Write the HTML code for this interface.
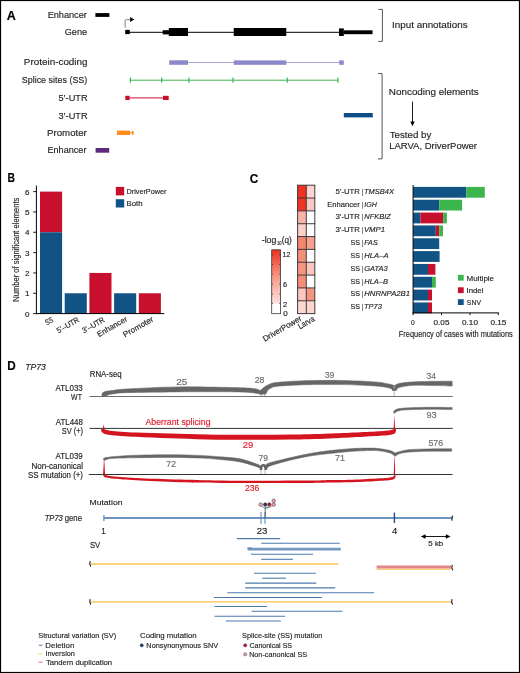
<!DOCTYPE html>
<html><head><meta charset="utf-8"><style>
html,body{margin:0;padding:0;background:#fff;}
svg{display:block;}
text{font-family:"Liberation Sans",sans-serif;stroke-width:0.16px;}
</style></head><body>
<svg width="520" height="673" viewBox="0 0 520 673">
<rect x="0" y="0" width="520" height="673" fill="#fff"/>
<rect x="95.4" y="13.1" width="14.0" height="3.8" fill="#000" />
<line x1="127" y1="32.3" x2="372" y2="32.3" stroke="#000" stroke-width="1" />
<rect x="125.2" y="29.9" width="4.6" height="4.2" fill="#000" />
<rect x="162.7" y="30.2" width="6.3" height="4.2" fill="#000" />
<rect x="168.8" y="28.0" width="19.2" height="8.0" fill="#000" />
<rect x="233.7" y="28.0" width="52.6" height="8.0" fill="#000" />
<rect x="339.0" y="28.4" width="4.8" height="7.6" fill="#000" />
<rect x="343.8" y="30.3" width="28.7" height="3.9" fill="#000" />
<path d="M125.15,27.7 V20.6 Q125.15,19.7 126.05,19.7 H130.6" stroke="#7a7a7a" stroke-width="0.95" fill="none" />
<path d="M130.1,17.1 L134.3,19.6 L130.1,22.0 Z" stroke="none" stroke-width="1" fill="#000" />
<path d="M378.3,9.4 H382.4 V41.4 H378.3" stroke="#555" stroke-width="1" fill="none" />
<path d="M378.0,73.6 H382.1 V158.9 H378.0" stroke="#555" stroke-width="1" fill="none" />
<line x1="412.5" y1="101.7" x2="412.5" y2="122.5" stroke="#000" stroke-width="0.9" />
<path d="M410.3,121.5 L412.5,126.3 L414.7,121.5 Z" stroke="none" stroke-width="1" fill="#000" />
<line x1="188" y1="62.5" x2="339.2" y2="62.5" stroke="#a9a6d8" stroke-width="1" />
<rect x="169.2" y="60.3" width="18.8" height="4.5" fill="#8c88c9" />
<rect x="233.8" y="60.4" width="52.5" height="4.4" fill="#8c88c9" />
<rect x="339.2" y="60.4" width="4.6" height="4.4" fill="#8c88c9" />
<line x1="130.2" y1="80.2" x2="338.0" y2="80.2" stroke="#3cb44b" stroke-width="1" />
<line x1="130.4" y1="77.6" x2="130.4" y2="82.8" stroke="#3cb44b" stroke-width="1.2" />
<line x1="161.7" y1="77.6" x2="161.7" y2="82.8" stroke="#3cb44b" stroke-width="1.2" />
<line x1="188.9" y1="77.6" x2="188.9" y2="82.8" stroke="#3cb44b" stroke-width="1.2" />
<line x1="233.0" y1="77.6" x2="233.0" y2="82.8" stroke="#3cb44b" stroke-width="1.2" />
<line x1="287.2" y1="77.6" x2="287.2" y2="82.8" stroke="#3cb44b" stroke-width="1.2" />
<line x1="338.0" y1="77.6" x2="338.0" y2="82.8" stroke="#3cb44b" stroke-width="1.2" />
<line x1="129.7" y1="97.9" x2="163" y2="97.9" stroke="#c8102e" stroke-width="1" />
<rect x="125.3" y="95.8" width="4.4" height="4.2" fill="#c8102e" />
<rect x="163.0" y="95.8" width="5.7" height="4.2" fill="#c8102e" />
<rect x="343.8" y="113.0" width="29.0" height="4.4" fill="#0d4c87" />
<rect x="117.0" y="130.6" width="13.0" height="4.4" fill="#ff8c1a" />
<line x1="130" y1="132.8" x2="133.5" y2="132.8" stroke="#ff8c1a" stroke-width="1" />
<rect x="131.9" y="130.8" width="1.6" height="4.0" fill="#ff8c1a" />
<rect x="95.6" y="148.0" width="13.6" height="4.7" fill="#5b2a7c" />
<rect x="40.0" y="191.62000000000003" width="22.1" height="40.66" fill="#c8102e" />
<rect x="40.0" y="232.28000000000003" width="22.1" height="81.32" fill="#125385" />
<rect x="64.7" y="293.27000000000004" width="22.1" height="20.329999999999984" fill="#125385" />
<rect x="89.4" y="272.94000000000005" width="22.1" height="40.65999999999997" fill="#c8102e" />
<rect x="114.1" y="293.27000000000004" width="22.1" height="20.329999999999984" fill="#125385" />
<rect x="138.8" y="293.27000000000004" width="22.1" height="20.329999999999984" fill="#c8102e" />
<line x1="36.4" y1="185.6" x2="36.4" y2="314.1" stroke="#000" stroke-width="1" />
<line x1="35.9" y1="313.6" x2="164.2" y2="313.6" stroke="#000" stroke-width="1" />
<line x1="33.2" y1="313.6" x2="36.4" y2="313.6" stroke="#000" stroke-width="0.9" />
<line x1="33.2" y1="293.27000000000004" x2="36.4" y2="293.27000000000004" stroke="#000" stroke-width="0.9" />
<line x1="33.2" y1="272.94000000000005" x2="36.4" y2="272.94000000000005" stroke="#000" stroke-width="0.9" />
<line x1="33.2" y1="252.61" x2="36.4" y2="252.61" stroke="#000" stroke-width="0.9" />
<line x1="33.2" y1="232.28000000000003" x2="36.4" y2="232.28000000000003" stroke="#000" stroke-width="0.9" />
<line x1="33.2" y1="211.95000000000005" x2="36.4" y2="211.95000000000005" stroke="#000" stroke-width="0.9" />
<line x1="33.2" y1="191.62000000000003" x2="36.4" y2="191.62000000000003" stroke="#000" stroke-width="0.9" />
<rect x="115.8" y="186.9" width="8.4" height="8.5" fill="#c8102e" />
<rect x="115.8" y="199.2" width="8.4" height="8.3" fill="#125385" />
<rect x="297.6" y="185.2" width="8.699999999999989" height="12.84" fill="#ee3322" />
<rect x="306.3" y="185.2" width="8.5" height="12.84" fill="#fdd5d0" />
<rect x="297.6" y="198.04" width="8.699999999999989" height="12.84" fill="#ee3322" />
<rect x="306.3" y="198.04" width="8.5" height="12.84" fill="#fcc9c2" />
<rect x="297.6" y="210.88" width="8.699999999999989" height="12.84" fill="#f9b4a8" />
<rect x="306.3" y="210.88" width="8.5" height="12.84" fill="#ffffff" />
<rect x="297.6" y="223.71999999999997" width="8.699999999999989" height="12.84" fill="#fccfc8" />
<rect x="306.3" y="223.71999999999997" width="8.5" height="12.84" fill="#ffffff" />
<rect x="297.6" y="236.56" width="8.699999999999989" height="12.84" fill="#f4866f" />
<rect x="306.3" y="236.56" width="8.5" height="12.84" fill="#f7a090" />
<rect x="297.6" y="249.39999999999998" width="8.699999999999989" height="12.84" fill="#f58f7a" />
<rect x="306.3" y="249.39999999999998" width="8.5" height="12.84" fill="#ffffff" />
<rect x="297.6" y="262.24" width="8.699999999999989" height="12.84" fill="#f59580" />
<rect x="306.3" y="262.24" width="8.5" height="12.84" fill="#fcc5bd" />
<rect x="297.6" y="275.08" width="8.699999999999989" height="12.84" fill="#f58f7a" />
<rect x="306.3" y="275.08" width="8.5" height="12.84" fill="#ffffff" />
<rect x="297.6" y="287.91999999999996" width="8.699999999999989" height="12.84" fill="#fcc5bd" />
<rect x="306.3" y="287.91999999999996" width="8.5" height="12.84" fill="#f59580" />
<rect x="297.6" y="300.76" width="8.699999999999989" height="12.84" fill="#fdd8d2" />
<rect x="306.3" y="300.76" width="8.5" height="12.84" fill="#fdd5d0" />
<line x1="297.15000000000003" y1="185.2" x2="315.25" y2="185.2" stroke="#333333" stroke-width="0.95" />
<line x1="297.15000000000003" y1="198.04" x2="315.25" y2="198.04" stroke="#333333" stroke-width="0.95" />
<line x1="297.15000000000003" y1="210.88" x2="315.25" y2="210.88" stroke="#333333" stroke-width="0.95" />
<line x1="297.15000000000003" y1="223.71999999999997" x2="315.25" y2="223.71999999999997" stroke="#333333" stroke-width="0.95" />
<line x1="297.15000000000003" y1="236.56" x2="315.25" y2="236.56" stroke="#333333" stroke-width="0.95" />
<line x1="297.15000000000003" y1="249.39999999999998" x2="315.25" y2="249.39999999999998" stroke="#333333" stroke-width="0.95" />
<line x1="297.15000000000003" y1="262.24" x2="315.25" y2="262.24" stroke="#333333" stroke-width="0.95" />
<line x1="297.15000000000003" y1="275.08" x2="315.25" y2="275.08" stroke="#333333" stroke-width="0.95" />
<line x1="297.15000000000003" y1="287.91999999999996" x2="315.25" y2="287.91999999999996" stroke="#333333" stroke-width="0.95" />
<line x1="297.15000000000003" y1="300.76" x2="315.25" y2="300.76" stroke="#333333" stroke-width="0.95" />
<line x1="297.15000000000003" y1="313.6" x2="315.25" y2="313.6" stroke="#333333" stroke-width="0.95" />
<line x1="297.6" y1="185.2" x2="297.6" y2="313.6" stroke="#333333" stroke-width="0.95" />
<line x1="306.3" y1="185.2" x2="306.3" y2="313.6" stroke="#333333" stroke-width="0.95" />
<line x1="314.8" y1="185.2" x2="314.8" y2="313.6" stroke="#333333" stroke-width="0.95" />
<defs><linearGradient id="cb" x1="0" y1="1" x2="0" y2="0"><stop offset="0" stop-color="#fde0dc"/><stop offset="0.45" stop-color="#f6a08e"/><stop offset="1" stop-color="#ec3220"/></linearGradient></defs>
<rect x="271.7" y="249.8" width="8.9" height="53.599999999999966" fill="url(#cb)" />
<rect x="271.7" y="249.8" width="8.9" height="63.89999999999998" fill="none" stroke="#3a3a3a" stroke-width="0.8"/>
<line x1="271.7" y1="254.8" x2="273.0" y2="254.8" stroke="#3a3a3a" stroke-width="0.8" />
<line x1="279.3" y1="254.8" x2="280.6" y2="254.8" stroke="#3a3a3a" stroke-width="0.8" />
<line x1="271.7" y1="264.5" x2="273.0" y2="264.5" stroke="#3a3a3a" stroke-width="0.8" />
<line x1="279.3" y1="264.5" x2="280.6" y2="264.5" stroke="#3a3a3a" stroke-width="0.8" />
<line x1="271.7" y1="274.2" x2="273.0" y2="274.2" stroke="#3a3a3a" stroke-width="0.8" />
<line x1="279.3" y1="274.2" x2="280.6" y2="274.2" stroke="#3a3a3a" stroke-width="0.8" />
<line x1="271.7" y1="284.2" x2="273.0" y2="284.2" stroke="#3a3a3a" stroke-width="0.8" />
<line x1="279.3" y1="284.2" x2="280.6" y2="284.2" stroke="#3a3a3a" stroke-width="0.8" />
<line x1="271.7" y1="294.0" x2="273.0" y2="294.0" stroke="#3a3a3a" stroke-width="0.8" />
<line x1="279.3" y1="294.0" x2="280.6" y2="294.0" stroke="#3a3a3a" stroke-width="0.8" />
<line x1="271.7" y1="303.4" x2="273.0" y2="303.4" stroke="#3a3a3a" stroke-width="0.8" />
<line x1="279.3" y1="303.4" x2="280.6" y2="303.4" stroke="#3a3a3a" stroke-width="0.8" />
<rect x="413.1" y="186.9" width="53.099999999999966" height="10.8" fill="#125385" />
<rect x="466.2" y="186.9" width="18.600000000000023" height="10.8" fill="#3bb54e" />
<rect x="413.1" y="199.74" width="26.099999999999966" height="10.8" fill="#125385" />
<rect x="439.2" y="199.74" width="22.900000000000034" height="10.8" fill="#3bb54e" />
<rect x="413.1" y="212.58" width="7.2999999999999545" height="10.8" fill="#125385" />
<rect x="420.4" y="212.58" width="22.700000000000045" height="10.8" fill="#c8102e" />
<rect x="443.1" y="212.58" width="3.7999999999999545" height="10.8" fill="#3bb54e" />
<rect x="413.1" y="225.42000000000002" width="22.69999999999999" height="10.8" fill="#125385" />
<rect x="435.8" y="225.42000000000002" width="3.3999999999999773" height="10.8" fill="#c8102e" />
<rect x="439.2" y="225.42000000000002" width="3.8000000000000114" height="10.8" fill="#3bb54e" />
<rect x="413.1" y="238.26" width="26.099999999999966" height="10.8" fill="#125385" />
<rect x="413.1" y="251.10000000000002" width="26.5" height="10.8" fill="#125385" />
<rect x="413.1" y="263.94" width="14.899999999999977" height="10.8" fill="#125385" />
<rect x="428.0" y="263.94" width="7.399999999999977" height="10.8" fill="#c8102e" />
<rect x="413.1" y="276.78" width="18.899999999999977" height="10.8" fill="#125385" />
<rect x="432.0" y="276.78" width="3.8000000000000114" height="10.8" fill="#3bb54e" />
<rect x="413.1" y="289.62" width="14.899999999999977" height="10.8" fill="#125385" />
<rect x="428.0" y="289.62" width="4.0" height="10.8" fill="#c8102e" />
<rect x="413.1" y="302.46000000000004" width="14.899999999999977" height="10.8" fill="#125385" />
<rect x="428.0" y="302.46000000000004" width="4.0" height="10.8" fill="#c8102e" />
<line x1="413.1" y1="185.0" x2="413.1" y2="313.4" stroke="#000" stroke-width="1" />
<line x1="412.6" y1="312.9" x2="498.8" y2="312.9" stroke="#000" stroke-width="1" />
<line x1="413.1" y1="312.9" x2="413.1" y2="315.2" stroke="#000" stroke-width="0.9" />
<line x1="441.5" y1="312.9" x2="441.5" y2="315.2" stroke="#000" stroke-width="0.9" />
<line x1="470.0" y1="312.9" x2="470.0" y2="315.2" stroke="#000" stroke-width="0.9" />
<line x1="498.3" y1="312.9" x2="498.3" y2="315.2" stroke="#000" stroke-width="0.9" />
<rect x="457.9" y="274.8" width="5.8" height="5.8" fill="#3bb54e" />
<rect x="457.9" y="287.3" width="5.8" height="5.8" fill="#c8102e" />
<rect x="457.9" y="299.2" width="5.8" height="5.8" fill="#125385" />
<line x1="38.7" y1="645.2" x2="42.5" y2="645.2" stroke="#4e7fb0" stroke-width="1" />
<line x1="38.7" y1="653.8" x2="42.5" y2="653.8" stroke="#f7cf6b" stroke-width="1" />
<line x1="38.7" y1="662.1" x2="42.5" y2="662.1" stroke="#e8646e" stroke-width="1" />
<circle cx="141.7" cy="645.3" r="1.6" fill="#123f7a" stroke="#222" stroke-width="0.4"/>
<circle cx="245.2" cy="645.3" r="1.6" fill="#c8102e" stroke="#222" stroke-width="0.4"/>
<circle cx="245.2" cy="654.3" r="1.6" fill="#f4a0b0" stroke="#222" stroke-width="0.4"/>
<line x1="89.5" y1="396.5" x2="452.7" y2="396.5" stroke="#707070" stroke-width="1.1" />
<line x1="89.5" y1="428.4" x2="452.7" y2="428.4" stroke="#333" stroke-width="1" />
<line x1="88.8" y1="474.5" x2="452.5" y2="474.5" stroke="#333" stroke-width="1" />
<path d="M102.00,396.20 C102.05,395.70 101.80,393.97 102.30,393.20 C102.80,392.43 103.72,392.00 105.00,391.60 C106.28,391.20 106.50,391.23 110.00,390.80 C113.50,390.37 114.83,389.65 126.00,389.00 C137.17,388.35 158.67,387.13 177.00,386.90 C195.33,386.67 222.83,387.27 236.00,387.60 C249.17,387.93 252.03,388.37 256.00,388.90 C259.97,389.43 259.17,390.48 259.80,390.80 L260.30,394.70 C259.58,394.45 260.05,393.67 256.00,393.20 C251.95,392.73 249.17,392.12 236.00,391.90 C222.83,391.68 195.33,391.77 177.00,391.90 C158.67,392.03 136.83,392.33 126.00,392.70 C115.17,393.07 115.00,393.70 112.00,394.10 C109.00,394.50 109.00,394.75 108.00,395.10 C107.00,395.45 106.33,396.02 106.00,396.20 Z" fill="#666" stroke="#666" stroke-width="0.5" stroke-linejoin="round"/>
<rect x="259.3" y="389.5" width="7.5" height="5.1" rx="2" fill="#666"/>
<path d="M261.50,389.60 C261.92,389.20 262.92,387.98 264.00,387.20 C265.08,386.42 266.00,385.68 268.00,384.90 C270.00,384.12 270.67,383.17 276.00,382.50 C281.33,381.83 289.33,381.25 300.00,380.90 C310.67,380.55 327.50,380.23 340.00,380.40 C352.50,380.57 366.67,381.27 375.00,381.90 C383.33,382.53 386.80,383.58 390.00,384.20 C393.20,384.82 393.50,385.37 394.20,385.60 L392.50,390.60 C392.08,390.20 392.92,388.97 390.00,388.20 C387.08,387.43 383.33,386.60 375.00,386.00 C366.67,385.40 352.50,384.78 340.00,384.60 C327.50,384.42 310.67,384.60 300.00,384.90 C289.33,385.20 280.67,385.95 276.00,386.40 C271.33,386.85 273.25,387.07 272.00,387.60 C270.75,388.13 269.37,388.87 268.50,389.60 C267.63,390.33 267.08,391.60 266.80,392.00 Z" fill="#666" stroke="#666" stroke-width="0.5" stroke-linejoin="round"/>
<path d="M394.20,385.80 C395.17,385.38 396.53,383.97 400.00,383.30 C403.47,382.63 409.17,382.13 415.00,381.80 C420.83,381.47 428.80,381.40 435.00,381.30 C441.20,381.20 449.33,381.22 452.20,381.20 L452.20,386.10 C449.33,386.02 441.20,385.73 435.00,385.60 C428.80,385.47 420.83,385.02 415.00,385.30 C409.17,385.58 403.17,386.42 400.00,387.30 C396.83,388.18 396.67,390.05 396.00,390.60 Z" fill="#666" stroke="#666" stroke-width="0.5" stroke-linejoin="round"/>
<rect x="392.2" y="388" width="4.2" height="2.7" fill="#666"/>
<line x1="261.4" y1="394.2" x2="261.4" y2="396.3" stroke="#666" stroke-width="0.5" />
<line x1="264.8" y1="394.2" x2="264.8" y2="396.3" stroke="#666" stroke-width="0.5" />
<line x1="394.2" y1="390.5" x2="394.2" y2="396.3" stroke="#666" stroke-width="0.5" />
<path d="M103.50,428.60 C104.58,428.95 104.58,430.03 110.00,430.70 C115.42,431.37 126.00,432.13 136.00,432.60 C146.00,433.07 158.17,433.20 170.00,433.50 C181.83,433.80 193.67,434.18 207.00,434.40 C220.33,434.62 236.17,434.77 250.00,434.80 C263.83,434.83 276.67,434.82 290.00,434.60 C303.33,434.38 315.00,434.07 330.00,433.50 C345.00,432.93 369.67,431.82 380.00,431.20 C390.33,430.58 389.58,430.23 392.00,429.80 C394.42,429.37 394.08,428.80 394.50,428.60 L396.00,429.00 C395.92,429.58 396.17,431.58 395.50,432.50 C394.83,433.42 394.58,433.95 392.00,434.50 C389.42,435.05 390.33,435.13 380.00,435.80 C369.67,436.47 345.00,437.87 330.00,438.50 C315.00,439.13 303.33,439.38 290.00,439.60 C276.67,439.82 263.83,439.83 250.00,439.80 C236.17,439.77 220.33,439.65 207.00,439.40 C193.67,439.15 181.83,438.73 170.00,438.30 C158.17,437.87 146.00,437.37 136.00,436.80 C126.00,436.23 115.33,435.47 110.00,434.90 C104.67,434.33 105.42,433.97 104.00,433.40 C102.58,432.83 101.97,432.23 101.50,431.50 C101.03,430.77 101.25,429.42 101.20,429.00 Z" fill="#d4141f"/>
<path d="M102.9,428.4 L103.6,424.2 L104.4,428.4 Z" stroke="none" stroke-width="1" fill="#d4141f" />
<path d="M393.6,428.4 L394.3,414.6 L395.0,428.4 Z" stroke="none" stroke-width="1" fill="#d4141f" />
<path d="M393.40,412.20 C393.83,411.75 394.07,410.20 396.00,409.50 C397.93,408.80 399.33,408.37 405.00,408.00 C410.67,407.63 422.13,407.38 430.00,407.30 C437.87,407.22 448.50,407.47 452.20,407.50 L452.20,409.60 C448.50,409.55 437.87,409.25 430.00,409.30 C422.13,409.35 410.33,409.60 405.00,409.90 C399.67,410.20 399.80,410.52 398.00,411.10 C396.20,411.68 394.83,413.02 394.20,413.40 Z" fill="#666" stroke="#666" stroke-width="0.5" stroke-linejoin="round"/>
<path d="M103.30,458.80 C103.75,458.60 104.05,457.98 106.00,457.60 C107.95,457.22 110.00,456.90 115.00,456.50 C120.00,456.10 126.83,455.50 136.00,455.20 C145.17,454.90 159.33,454.67 170.00,454.70 C180.67,454.73 191.67,455.05 200.00,455.40 C208.33,455.75 213.33,456.23 220.00,456.80 C226.67,457.37 233.67,457.52 240.00,458.80 C246.33,460.08 254.40,463.05 258.00,464.50 C261.60,465.95 261.00,467.00 261.60,467.50 L260.20,469.60 C259.83,469.20 261.37,468.48 258.00,467.20 C254.63,465.92 246.33,463.18 240.00,461.90 C233.67,460.62 226.67,460.13 220.00,459.50 C213.33,458.87 208.33,458.45 200.00,458.10 C191.67,457.75 180.67,457.45 170.00,457.40 C159.33,457.35 145.17,457.65 136.00,457.80 C126.83,457.95 119.67,458.10 115.00,458.30 C110.33,458.50 109.83,458.60 108.00,459.00 C106.17,459.40 104.67,460.42 104.00,460.70 Z" fill="#666" stroke="#666" stroke-width="0.5" stroke-linejoin="round"/>
<path d="M261,469.9 C261,463.6 265.6,463.6 265.6,469.9" stroke="#666" stroke-width="2.4" fill="none" />
<path d="M264.50,466.50 C264.75,466.22 265.08,465.43 266.00,464.80 C266.92,464.17 266.00,463.88 270.00,462.70 C274.00,461.52 283.33,459.23 290.00,457.70 C296.67,456.17 303.33,454.68 310.00,453.50 C316.67,452.32 323.33,451.40 330.00,450.60 C336.67,449.80 343.33,449.12 350.00,448.70 C356.67,448.28 365.00,448.10 370.00,448.10 C375.00,448.10 376.67,448.28 380.00,448.70 C383.33,449.12 387.48,449.88 390.00,450.60 C392.52,451.32 394.25,452.60 395.10,453.00 L395.10,456.30 C394.25,455.75 392.52,453.90 390.00,453.00 C387.48,452.10 383.33,451.30 380.00,450.90 C376.67,450.50 375.00,450.50 370.00,450.60 C365.00,450.70 356.67,451.02 350.00,451.50 C343.33,451.98 336.67,452.75 330.00,453.50 C323.33,454.25 316.67,454.88 310.00,456.00 C303.33,457.12 296.67,458.53 290.00,460.20 C283.33,461.87 273.87,464.43 270.00,466.00 C266.13,467.57 267.33,469.00 266.80,469.60 Z" fill="#666" stroke="#666" stroke-width="0.5" stroke-linejoin="round"/>
<path d="M395.10,453.00 C395.92,452.75 397.52,452.07 400.00,451.50 C402.48,450.93 405.00,450.03 410.00,449.60 C415.00,449.17 423.07,449.03 430.00,448.90 C436.93,448.77 448.00,448.82 451.60,448.80 L451.60,451.30 C448.00,451.30 436.93,451.18 430.00,451.30 C423.07,451.42 415.00,451.62 410.00,452.00 C405.00,452.38 402.48,452.88 400.00,453.60 C397.52,454.32 395.92,455.85 395.10,456.30 Z" fill="#666" stroke="#666" stroke-width="0.5" stroke-linejoin="round"/>
<line x1="261.0" y1="469.8" x2="261.0" y2="474.3" stroke="#666" stroke-width="0.5" />
<line x1="265.1" y1="469.8" x2="265.1" y2="474.3" stroke="#666" stroke-width="0.5" />
<path d="M103.0,474.5 L103.9,460.7 L104.3,460.7 L105.1,474.5 Z" stroke="none" stroke-width="1" fill="#d4141f" />
<path d="M393.7,474.5 L394.4,457.6 L394.8,457.6 L395.2,474.5 Z" stroke="none" stroke-width="1" fill="#d4141f" />
<path d="M106.00,474.80 C106.67,475.00 105.00,475.47 110.00,476.00 C115.00,476.53 124.33,477.40 136.00,478.00 C147.67,478.60 164.33,479.15 180.00,479.60 C195.67,480.05 208.33,480.53 230.00,480.70 C251.67,480.87 293.33,480.70 310.00,480.60 C326.67,480.50 321.67,480.30 330.00,480.10 C338.33,479.90 350.83,479.73 360.00,479.40 C369.17,479.07 379.50,478.55 385.00,478.10 C390.50,477.65 391.40,477.28 393.00,476.70 C394.60,476.12 394.33,474.95 394.60,474.60 L395.60,474.60 C395.55,475.08 395.73,476.70 395.30,477.50 C394.87,478.30 394.72,478.90 393.00,479.40 C391.28,479.90 390.50,480.08 385.00,480.50 C379.50,480.92 369.17,481.57 360.00,481.90 C350.83,482.23 338.33,482.33 330.00,482.50 C321.67,482.67 326.67,482.83 310.00,482.90 C293.33,482.97 251.67,483.02 230.00,482.90 C208.33,482.78 195.67,482.63 180.00,482.20 C164.33,481.77 146.83,480.87 136.00,480.30 C125.17,479.73 120.00,479.25 115.00,478.80 C110.00,478.35 107.92,478.07 106.00,477.60 C104.08,477.13 103.97,476.50 103.50,476.00 C103.03,475.50 103.25,474.83 103.20,474.60 Z" fill="#d4141f"/>
<line x1="103.9" y1="518.0" x2="452.2" y2="518.0" stroke="#6b95bf" stroke-width="2" />
<line x1="103.9" y1="515.0" x2="103.9" y2="520.9" stroke="#6b95bf" stroke-width="1.4" />
<path d="M452.0,515.6 q1.0,1.2 0.2,2.4 q-0.8,1.2 0.2,2.6" stroke="#2a2a2a" stroke-width="1.2" fill="none" />
<line x1="261.0" y1="512.1" x2="261.0" y2="523.7" stroke="#5b89b8" stroke-width="1.1" />
<line x1="265.0" y1="512.1" x2="265.0" y2="523.7" stroke="#5b89b8" stroke-width="1.1" />
<line x1="394.4" y1="512.5" x2="394.4" y2="523.0" stroke="#1f4e86" stroke-width="1.4" />
<path d="M265.2,518 V508.3" stroke="#444" stroke-width="0.85" fill="none" />
<path d="M265.2,508.3 Q262,507.5 260.7,504.6 M265.2,508.3 L265.2,504.6 M265.2,508.3 Q268.5,507.5 269.3,504.4 M265.2,508.3 Q271.5,507.5 273.7,504.6 M273.7,504.6 L273.7,500.8" stroke="#444" stroke-width="0.6" fill="none" />
<circle cx="260.7" cy="504.6" r="1.75" fill="#f4a0b0" stroke="#333" stroke-width="0.5"/>
<circle cx="265.2" cy="504.6" r="1.75" fill="#123f7a" stroke="#333" stroke-width="0.5"/>
<circle cx="269.3" cy="504.4" r="1.75" fill="#c8102e" stroke="#333" stroke-width="0.5"/>
<circle cx="273.7" cy="504.6" r="1.75" fill="#f4a0b0" stroke="#333" stroke-width="0.5"/>
<circle cx="273.7" cy="500.8" r="1.75" fill="#f4a0b0" stroke="#333" stroke-width="0.5"/>
<line x1="424" y1="536.5" x2="447.4" y2="536.5" stroke="#000" stroke-width="0.9" />
<path d="M420.8,536.5 L425.6,534.2 L425.6,538.8 Z" stroke="none" stroke-width="1" fill="#000" />
<path d="M450.6,536.5 L445.8,534.2 L445.8,538.8 Z" stroke="none" stroke-width="1" fill="#000" />
<line x1="236.9" y1="538.6" x2="280.2" y2="538.6" stroke="#4a7aac" stroke-width="1.1" />
<line x1="261.2" y1="543.3" x2="339.8" y2="543.3" stroke="#4a7aac" stroke-width="1.1" />
<line x1="251.0" y1="554.3" x2="313.0" y2="554.3" stroke="#4a7aac" stroke-width="1.1" />
<line x1="261.2" y1="559.3" x2="292.9" y2="559.3" stroke="#4a7aac" stroke-width="1.1" />
<line x1="254.0" y1="573.3" x2="316.0" y2="573.3" stroke="#4a7aac" stroke-width="1.1" />
<line x1="262.3" y1="578.2" x2="286.0" y2="578.2" stroke="#4a7aac" stroke-width="1.1" />
<line x1="245.2" y1="583.1" x2="316.3" y2="583.1" stroke="#4a7aac" stroke-width="1.1" />
<line x1="245.2" y1="587.9" x2="335.2" y2="587.9" stroke="#4a7aac" stroke-width="1.1" />
<line x1="227.3" y1="592.7" x2="374.0" y2="592.7" stroke="#4a7aac" stroke-width="1.1" />
<line x1="213.8" y1="597.5" x2="322.1" y2="597.5" stroke="#4a7aac" stroke-width="1.1" />
<line x1="214.4" y1="606.5" x2="267.0" y2="606.5" stroke="#4a7aac" stroke-width="1.1" />
<line x1="251.5" y1="611.3" x2="342.5" y2="611.3" stroke="#4a7aac" stroke-width="1.1" />
<line x1="214.4" y1="616.2" x2="285.2" y2="616.2" stroke="#4a7aac" stroke-width="1.1" />
<line x1="226.0" y1="621.0" x2="280.8" y2="621.0" stroke="#4a7aac" stroke-width="1.1" />
<line x1="247.6" y1="549.1" x2="340.8" y2="549.1" stroke="#7299c0" stroke-width="2.7" />
<line x1="247.3" y1="548.0" x2="252" y2="548.0" stroke="#4a7aac" stroke-width="0.9" />
<line x1="90.8" y1="564.0" x2="338.2" y2="564.0" stroke="#fbd27c" stroke-width="1.8" />
<line x1="90.8" y1="601.9" x2="450.8" y2="601.9" stroke="#fbd27c" stroke-width="1.8" />
<line x1="376.6" y1="569.2" x2="451.2" y2="569.2" stroke="#fbd27c" stroke-width="1.4" />
<line x1="376.6" y1="567.0" x2="451.2" y2="567.0" stroke="#e3868a" stroke-width="3.1" />
<path d="M89.7,561.3 q1.0,0.9 0.2,1.8 q-0.8,0.9 0.2,1.8 q1.0,0.9 0.2,1.8" stroke="#2a2a2a" stroke-width="1.15" fill="none" />
<path d="M451.8,565.0 q1.0,0.9 0.2,1.8 q-0.8,0.9 0.2,1.8 q1.0,0.9 0.2,1.8" stroke="#2a2a2a" stroke-width="1.15" fill="none" />
<path d="M89.7,599.1999999999999 q1.0,0.9 0.2,1.8 q-0.8,0.9 0.2,1.8 q1.0,0.9 0.2,1.8" stroke="#2a2a2a" stroke-width="1.15" fill="none" />
<path d="M451.5,599.1999999999999 q1.0,0.9 0.2,1.8 q-0.8,0.9 0.2,1.8 q1.0,0.9 0.2,1.8" stroke="#2a2a2a" stroke-width="1.15" fill="none" />
<g id="texts" style="will-change:transform">
<text id="A" x="6.88" y="19.80" font-size="12.00" fill="#000" stroke="#000" font-weight="bold" textLength="9.05" lengthAdjust="spacingAndGlyphs">A</text>
<text id="a_enh" x="47.63" y="17.80" font-size="9.80" fill="#231f20" stroke="#231f20" textLength="39.22" lengthAdjust="spacingAndGlyphs">Enhancer</text>
<text id="a_gene" x="64.73" y="34.60" font-size="9.80" fill="#231f20" stroke="#231f20" textLength="22.36" lengthAdjust="spacingAndGlyphs">Gene</text>
<text id="a_pc" x="23.88" y="65.00" font-size="9.80" fill="#231f20" stroke="#231f20" textLength="63.67" lengthAdjust="spacingAndGlyphs">Protein-coding</text>
<text id="a_ss" x="21.74" y="82.70" font-size="9.80" fill="#231f20" stroke="#231f20" textLength="65.57" lengthAdjust="spacingAndGlyphs">Splice sites (SS)</text>
<text id="a_5u" x="58.39" y="100.90" font-size="9.80" fill="#231f20" stroke="#231f20" textLength="29.23" lengthAdjust="spacingAndGlyphs">5’-UTR</text>
<text id="a_3u" x="58.39" y="118.60" font-size="9.80" fill="#231f20" stroke="#231f20" textLength="29.23" lengthAdjust="spacingAndGlyphs">3’-UTR</text>
<text id="a_pro" x="47.07" y="135.70" font-size="9.80" fill="#231f20" stroke="#231f20" textLength="39.78" lengthAdjust="spacingAndGlyphs">Promoter</text>
<text id="a_enh2" x="47.44" y="153.20" font-size="9.80" fill="#231f20" stroke="#231f20" textLength="39.06" lengthAdjust="spacingAndGlyphs">Enhancer</text>
<text id="a_in" x="392.08" y="28.20" font-size="9.80" fill="#231f20" stroke="#231f20" textLength="75.52" lengthAdjust="spacingAndGlyphs">Input annotations</text>
<text id="a_nc" x="388.89" y="95.00" font-size="9.80" fill="#231f20" stroke="#231f20" textLength="89.86" lengthAdjust="spacingAndGlyphs">Noncoding elements</text>
<text id="a_tb" x="389.65" y="138.00" font-size="9.80" fill="#231f20" stroke="#231f20" textLength="41.65" lengthAdjust="spacingAndGlyphs">Tested by</text>
<text id="a_lv" x="389.14" y="148.90" font-size="9.80" fill="#231f20" stroke="#231f20" textLength="87.91" lengthAdjust="spacingAndGlyphs">LARVA, DriverPower</text>
<text id="B" x="7.42" y="182.20" font-size="12.00" fill="#000" stroke="#000" font-weight="bold" textLength="7.48" lengthAdjust="spacingAndGlyphs">B</text>
<text id="b_dp" x="126.49" y="193.80" font-size="7.60" fill="#231f20" stroke="#231f20" textLength="40.01" lengthAdjust="spacingAndGlyphs">DriverPower</text>
<text id="b_both" x="126.46" y="205.80" font-size="7.60" fill="#231f20" stroke="#231f20" textLength="16.07" lengthAdjust="spacingAndGlyphs">Both</text>
<text id="C" x="249.78" y="182.60" font-size="12.00" fill="#000" stroke="#000" font-weight="bold" textLength="8.51" lengthAdjust="spacingAndGlyphs">C</text>
<text id="c_12" x="282.63" y="257.20" font-size="6.90" fill="#231f20" stroke="#231f20" textLength="7.86" lengthAdjust="spacingAndGlyphs">12</text>
<text id="c_6" x="283.01" y="287.00" font-size="6.90" fill="#231f20" stroke="#231f20" textLength="4.07" lengthAdjust="spacingAndGlyphs">6</text>
<text id="c_2" x="282.97" y="306.70" font-size="6.90" fill="#231f20" stroke="#231f20" textLength="4.20" lengthAdjust="spacingAndGlyphs">2</text>
<text id="c_0" x="283.23" y="316.20" font-size="6.90" fill="#231f20" stroke="#231f20" textLength="4.47" lengthAdjust="spacingAndGlyphs">0</text>
<text id="c_log" x="261.79" y="242.90" font-size="8.20" fill="#231f20" stroke="#231f20" textLength="14.49" lengthAdjust="spacingAndGlyphs">-log</text>
<text id="c_10" x="276.99" y="245.20" font-size="4.50" fill="#231f20" stroke="#231f20" textLength="4.51" lengthAdjust="spacingAndGlyphs">10</text>
<text id="c_q" x="281.68" y="242.90" font-size="8.20" fill="#231f20" stroke="#231f20" textLength="10.02" lengthAdjust="spacingAndGlyphs">(q)</text>
<text id="c_p0" x="335.39" y="193.70" font-size="8.00" fill="#231f20" stroke="#231f20" textLength="24.58" lengthAdjust="spacingAndGlyphs">5’-UTR</text>
<text id="c_bar0" x="361.32" y="193.70" font-size="8.00" fill="#777" stroke="#777" textLength="2.56" lengthAdjust="spacingAndGlyphs">|</text>
<text id="c_g0" x="363.99" y="193.70" font-size="8.00" fill="#231f20" stroke="#231f20" font-style="italic" textLength="29.92" lengthAdjust="spacingAndGlyphs">TMSB4X</text>
<text id="c_p1" x="327.18" y="206.54" font-size="8.00" fill="#231f20" stroke="#231f20" textLength="32.53" lengthAdjust="spacingAndGlyphs">Enhancer</text>
<text id="c_bar1" x="361.32" y="206.54" font-size="8.00" fill="#777" stroke="#777" textLength="2.56" lengthAdjust="spacingAndGlyphs">|</text>
<text id="c_g1" x="364.25" y="206.54" font-size="8.00" fill="#231f20" stroke="#231f20" font-style="italic" textLength="12.55" lengthAdjust="spacingAndGlyphs">IGH</text>
<text id="c_p2" x="335.39" y="219.38" font-size="8.00" fill="#231f20" stroke="#231f20" textLength="24.58" lengthAdjust="spacingAndGlyphs">3’-UTR</text>
<text id="c_bar2" x="361.32" y="219.38" font-size="8.00" fill="#777" stroke="#777" textLength="2.56" lengthAdjust="spacingAndGlyphs">|</text>
<text id="c_g2" x="364.25" y="219.38" font-size="8.00" fill="#231f20" stroke="#231f20" font-style="italic" textLength="26.70" lengthAdjust="spacingAndGlyphs">NFKBIZ</text>
<text id="c_p3" x="335.39" y="232.22" font-size="8.00" fill="#231f20" stroke="#231f20" textLength="24.58" lengthAdjust="spacingAndGlyphs">3’-UTR</text>
<text id="c_bar3" x="361.32" y="232.22" font-size="8.00" fill="#777" stroke="#777" textLength="2.56" lengthAdjust="spacingAndGlyphs">|</text>
<text id="c_g3" x="363.93" y="232.22" font-size="8.00" fill="#231f20" stroke="#231f20" font-style="italic" textLength="21.12" lengthAdjust="spacingAndGlyphs">VMP1</text>
<text id="c_p4" x="350.58" y="245.06" font-size="8.00" fill="#231f20" stroke="#231f20" textLength="9.40" lengthAdjust="spacingAndGlyphs">SS</text>
<text id="c_bar4" x="361.32" y="245.06" font-size="8.00" fill="#777" stroke="#777" textLength="2.56" lengthAdjust="spacingAndGlyphs">|</text>
<text id="c_g4" x="364.25" y="245.06" font-size="8.00" fill="#231f20" stroke="#231f20" font-style="italic" textLength="13.43" lengthAdjust="spacingAndGlyphs">FAS</text>
<text id="c_p5" x="350.58" y="257.90" font-size="8.00" fill="#231f20" stroke="#231f20" textLength="9.40" lengthAdjust="spacingAndGlyphs">SS</text>
<text id="c_bar5" x="361.32" y="257.90" font-size="8.00" fill="#777" stroke="#777" textLength="2.56" lengthAdjust="spacingAndGlyphs">|</text>
<text id="c_g5" x="364.24" y="257.90" font-size="8.00" fill="#231f20" stroke="#231f20" font-style="italic" textLength="24.37" lengthAdjust="spacingAndGlyphs">HLA–A</text>
<text id="c_p6" x="350.58" y="270.74" font-size="8.00" fill="#231f20" stroke="#231f20" textLength="9.40" lengthAdjust="spacingAndGlyphs">SS</text>
<text id="c_bar6" x="361.32" y="270.74" font-size="8.00" fill="#777" stroke="#777" textLength="2.56" lengthAdjust="spacingAndGlyphs">|</text>
<text id="c_g6" x="364.24" y="270.74" font-size="8.00" fill="#231f20" stroke="#231f20" font-style="italic" textLength="23.42" lengthAdjust="spacingAndGlyphs">GATA3</text>
<text id="c_p7" x="350.58" y="283.58" font-size="8.00" fill="#231f20" stroke="#231f20" textLength="9.40" lengthAdjust="spacingAndGlyphs">SS</text>
<text id="c_bar7" x="361.32" y="283.58" font-size="8.00" fill="#777" stroke="#777" textLength="2.56" lengthAdjust="spacingAndGlyphs">|</text>
<text id="c_g7" x="364.25" y="283.58" font-size="8.00" fill="#231f20" stroke="#231f20" font-style="italic" textLength="23.67" lengthAdjust="spacingAndGlyphs">HLA–B</text>
<text id="c_p8" x="350.58" y="296.42" font-size="8.00" fill="#231f20" stroke="#231f20" textLength="9.40" lengthAdjust="spacingAndGlyphs">SS</text>
<text id="c_bar8" x="361.32" y="296.42" font-size="8.00" fill="#777" stroke="#777" textLength="2.56" lengthAdjust="spacingAndGlyphs">|</text>
<text id="c_g8" x="364.24" y="296.42" font-size="8.00" fill="#231f20" stroke="#231f20" font-style="italic" textLength="45.82" lengthAdjust="spacingAndGlyphs">HNRNPA2B1</text>
<text id="c_p9" x="350.58" y="309.26" font-size="8.00" fill="#231f20" stroke="#231f20" textLength="9.40" lengthAdjust="spacingAndGlyphs">SS</text>
<text id="c_bar9" x="361.32" y="309.26" font-size="8.00" fill="#777" stroke="#777" textLength="2.56" lengthAdjust="spacingAndGlyphs">|</text>
<text id="c_g9" x="363.96" y="309.26" font-size="8.00" fill="#231f20" stroke="#231f20" font-style="italic" textLength="17.86" lengthAdjust="spacingAndGlyphs">TP73</text>
<text id="c_t0" x="411.10" y="325.20" font-size="7.60" fill="#231f20" stroke="#231f20" textLength="3.69" lengthAdjust="spacingAndGlyphs">0</text>
<text id="c_t1" x="433.58" y="325.20" font-size="7.60" fill="#231f20" stroke="#231f20" textLength="15.85" lengthAdjust="spacingAndGlyphs">0.05</text>
<text id="c_t2" x="462.07" y="325.20" font-size="7.60" fill="#231f20" stroke="#231f20" textLength="15.86" lengthAdjust="spacingAndGlyphs">0.10</text>
<text id="c_t3" x="490.43" y="325.20" font-size="7.60" fill="#231f20" stroke="#231f20" textLength="15.86" lengthAdjust="spacingAndGlyphs">0.15</text>
<text id="c_xt" x="398.84" y="337.10" font-size="9.00" fill="#231f20" stroke="#231f20" textLength="113.91" lengthAdjust="spacingAndGlyphs">Frequency of cases with mutations</text>
<text id="c_lm" x="466.47" y="281.00" font-size="7.60" fill="#231f20" stroke="#231f20" textLength="27.61" lengthAdjust="spacingAndGlyphs">Multiple</text>
<text id="c_li" x="466.51" y="292.70" font-size="7.80" fill="#231f20" stroke="#231f20" textLength="16.92" lengthAdjust="spacingAndGlyphs">Indel</text>
<text id="c_ls" x="466.83" y="304.60" font-size="7.80" fill="#231f20" stroke="#231f20" textLength="14.17" lengthAdjust="spacingAndGlyphs">SNV</text>
<text id="D" x="7.24" y="369.60" font-size="12.00" fill="#000" stroke="#000" font-weight="bold" textLength="8.48" lengthAdjust="spacingAndGlyphs">D</text>
<text id="d_tp" x="25.18" y="369.80" font-size="9.40" fill="#231f20" stroke="#231f20" font-style="italic" textLength="20.62" lengthAdjust="spacingAndGlyphs">TP73</text>
<text id="d_rna" x="89.77" y="376.60" font-size="8.20" fill="#231f20" stroke="#231f20" textLength="31.87" lengthAdjust="spacingAndGlyphs">RNA-seq</text>
<text id="d_a1" x="55.50" y="390.70" font-size="8.30" fill="#231f20" stroke="#231f20" textLength="27.25" lengthAdjust="spacingAndGlyphs">ATL033</text>
<text id="d_a1b" x="71.10" y="399.70" font-size="8.30" fill="#231f20" stroke="#231f20" textLength="10.81" lengthAdjust="spacingAndGlyphs">WT</text>
<text id="d_a2" x="55.85" y="425.00" font-size="8.30" fill="#231f20" stroke="#231f20" textLength="27.07" lengthAdjust="spacingAndGlyphs">ATL448</text>
<text id="d_a2b" x="61.66" y="433.80" font-size="8.30" fill="#231f20" stroke="#231f20" textLength="21.45" lengthAdjust="spacingAndGlyphs">SV (+)</text>
<text id="d_a3" x="55.50" y="459.20" font-size="8.30" fill="#231f20" stroke="#231f20" textLength="27.25" lengthAdjust="spacingAndGlyphs">ATL039</text>
<text id="d_a3b" x="31.48" y="468.70" font-size="8.30" fill="#231f20" stroke="#231f20" textLength="51.52" lengthAdjust="spacingAndGlyphs">Non-canonical</text>
<text id="d_a3c" x="28.09" y="477.50" font-size="8.30" fill="#231f20" stroke="#231f20" textLength="54.92" lengthAdjust="spacingAndGlyphs">SS mutation (+)</text>
<text id="d_25" x="176.21" y="384.90" font-size="8.30" fill="#6d6e71" stroke="#6d6e71" textLength="11.09" lengthAdjust="spacingAndGlyphs">25</text>
<text id="d_28" x="254.70" y="382.90" font-size="8.30" fill="#6d6e71" stroke="#6d6e71" textLength="9.72" lengthAdjust="spacingAndGlyphs">28</text>
<text id="d_39" x="324.73" y="378.40" font-size="8.30" fill="#6d6e71" stroke="#6d6e71" textLength="9.55" lengthAdjust="spacingAndGlyphs">39</text>
<text id="d_34" x="426.40" y="379.20" font-size="8.30" fill="#6d6e71" stroke="#6d6e71" textLength="9.48" lengthAdjust="spacingAndGlyphs">34</text>
<text id="d_93" x="426.57" y="417.80" font-size="8.30" fill="#6d6e71" stroke="#6d6e71" textLength="10.06" lengthAdjust="spacingAndGlyphs">93</text>
<text id="d_72" x="166.38" y="466.60" font-size="8.30" fill="#6d6e71" stroke="#6d6e71" textLength="9.55" lengthAdjust="spacingAndGlyphs">72</text>
<text id="d_79" x="258.54" y="461.20" font-size="8.30" fill="#6d6e71" stroke="#6d6e71" textLength="9.62" lengthAdjust="spacingAndGlyphs">79</text>
<text id="d_71" x="335.00" y="461.20" font-size="8.30" fill="#6d6e71" stroke="#6d6e71" textLength="9.99" lengthAdjust="spacingAndGlyphs">71</text>
<text id="d_576" x="428.43" y="445.80" font-size="8.30" fill="#6d6e71" stroke="#6d6e71" textLength="14.86" lengthAdjust="spacingAndGlyphs">576</text>
<text id="d_ab" x="145.55" y="424.80" font-size="8.30" fill="#e0202e" stroke="#e0202e" textLength="64.96" lengthAdjust="spacingAndGlyphs">Aberrant splicing</text>
<text id="d_29" x="242.70" y="447.50" font-size="8.30" fill="#e0202e" stroke="#e0202e" textLength="10.58" lengthAdjust="spacingAndGlyphs">29</text>
<text id="d_236" x="245.03" y="491.20" font-size="8.30" fill="#e0202e" stroke="#e0202e" textLength="14.37" lengthAdjust="spacingAndGlyphs">236</text>
<text id="d_mut" x="89.47" y="505.40" font-size="7.80" fill="#231f20" stroke="#231f20" textLength="33.04" lengthAdjust="spacingAndGlyphs">Mutation</text>
<text id="d_tpg" x="44.77" y="521.00" font-size="8.20" fill="#231f20" stroke="#231f20" font-style="italic" textLength="18.04" lengthAdjust="spacingAndGlyphs">TP73</text>
<text id="d_gene" x="64.66" y="521.00" font-size="8.40" fill="#231f20" stroke="#231f20" textLength="17.38" lengthAdjust="spacingAndGlyphs">gene</text>
<text id="d_1" x="101.15" y="533.80" font-size="9.60" fill="#231f20" stroke="#231f20" textLength="4.51" lengthAdjust="spacingAndGlyphs">1</text>
<text id="d_23" x="256.67" y="533.70" font-size="9.60" fill="#231f20" stroke="#231f20" textLength="10.68" lengthAdjust="spacingAndGlyphs">23</text>
<text id="d_4" x="391.97" y="533.80" font-size="9.60" fill="#231f20" stroke="#231f20" textLength="5.30" lengthAdjust="spacingAndGlyphs">4</text>
<text id="d_5kb" x="428.39" y="546.20" font-size="7.60" fill="#231f20" stroke="#231f20" textLength="14.86" lengthAdjust="spacingAndGlyphs">5 kb</text>
<text id="d_sv" x="89.88" y="547.70" font-size="8.90" fill="#231f20" stroke="#231f20" textLength="10.30" lengthAdjust="spacingAndGlyphs">SV</text>
<text id="l_sv" x="38.24" y="638.20" font-size="7.60" fill="#231f20" stroke="#231f20" textLength="77.86" lengthAdjust="spacingAndGlyphs">Structural variation (SV)</text>
<text id="l_del" x="45.38" y="647.60" font-size="7.60" fill="#231f20" stroke="#231f20" textLength="28.91" lengthAdjust="spacingAndGlyphs">Deletion</text>
<text id="l_inv" x="45.41" y="656.30" font-size="7.60" fill="#231f20" stroke="#231f20" textLength="29.45" lengthAdjust="spacingAndGlyphs">Inversion</text>
<text id="l_td" x="45.90" y="664.60" font-size="7.60" fill="#231f20" stroke="#231f20" textLength="66.26" lengthAdjust="spacingAndGlyphs">Tandem duplication</text>
<text id="l_cm" x="140.04" y="638.20" font-size="7.60" fill="#231f20" stroke="#231f20" textLength="56.61" lengthAdjust="spacingAndGlyphs">Coding mutation</text>
<text id="l_ns" x="146.34" y="647.60" font-size="7.60" fill="#231f20" stroke="#231f20" textLength="71.81" lengthAdjust="spacingAndGlyphs">Nonsynonymous SNV</text>
<text id="l_ss" x="242.10" y="637.90" font-size="7.60" fill="#231f20" stroke="#231f20" textLength="80.21" lengthAdjust="spacingAndGlyphs">Splice-site (SS) mutation</text>
<text id="l_can" x="249.39" y="647.60" font-size="7.60" fill="#231f20" stroke="#231f20" textLength="42.66" lengthAdjust="spacingAndGlyphs">Canonical SS</text>
<text id="l_ncan" x="249.14" y="656.60" font-size="7.60" fill="#231f20" stroke="#231f20" textLength="57.92" lengthAdjust="spacingAndGlyphs">Non-canonical SS</text>
</g>
<g fill="#231f20" stroke="#231f20" font-family="Liberation Sans, sans-serif">
<text x="0" y="0" font-size="8.6" text-anchor="middle" textLength="104" lengthAdjust="spacingAndGlyphs" transform="translate(18.7,249.7) rotate(-90)">Number of significant elements</text>
<g font-size="8.1" text-anchor="end">
<text x="29.5" y="316.50">0</text>
<text x="29.5" y="296.17">1</text>
<text x="29.5" y="275.84">2</text>
<text x="29.5" y="255.51">3</text>
<text x="29.5" y="235.18">4</text>
<text x="29.5" y="214.85">5</text>
<text x="29.5" y="194.52">6</text>
</g>
<g font-size="8" text-anchor="end">
<text transform="translate(53.9,321.5) rotate(-30)" textLength="8" lengthAdjust="spacingAndGlyphs">SS</text>
<text transform="translate(79.9,321.3) rotate(-30)" textLength="24.6" lengthAdjust="spacingAndGlyphs">5’–UTR</text>
<text transform="translate(105.3,321.3) rotate(-30)" textLength="24.6" lengthAdjust="spacingAndGlyphs">3’–UTR</text>
<text transform="translate(127.9,320.6) rotate(-30)" textLength="33.3" lengthAdjust="spacingAndGlyphs">Enhancer</text>
<text transform="translate(154.1,320.8) rotate(-30)" textLength="33.6" lengthAdjust="spacingAndGlyphs">Promoter</text>
<text transform="translate(302.4,320.0) rotate(-30)" textLength="43.6" lengthAdjust="spacingAndGlyphs">DriverPower</text>
<text transform="translate(315.4,320.6) rotate(-30)" textLength="17.9" font-size="8.4" lengthAdjust="spacingAndGlyphs">Larva</text>
</g>
</g>

<rect x="0.5" y="0.5" width="519" height="672" fill="none" stroke="#000" stroke-width="1.2"/>
</svg>
</body></html>
